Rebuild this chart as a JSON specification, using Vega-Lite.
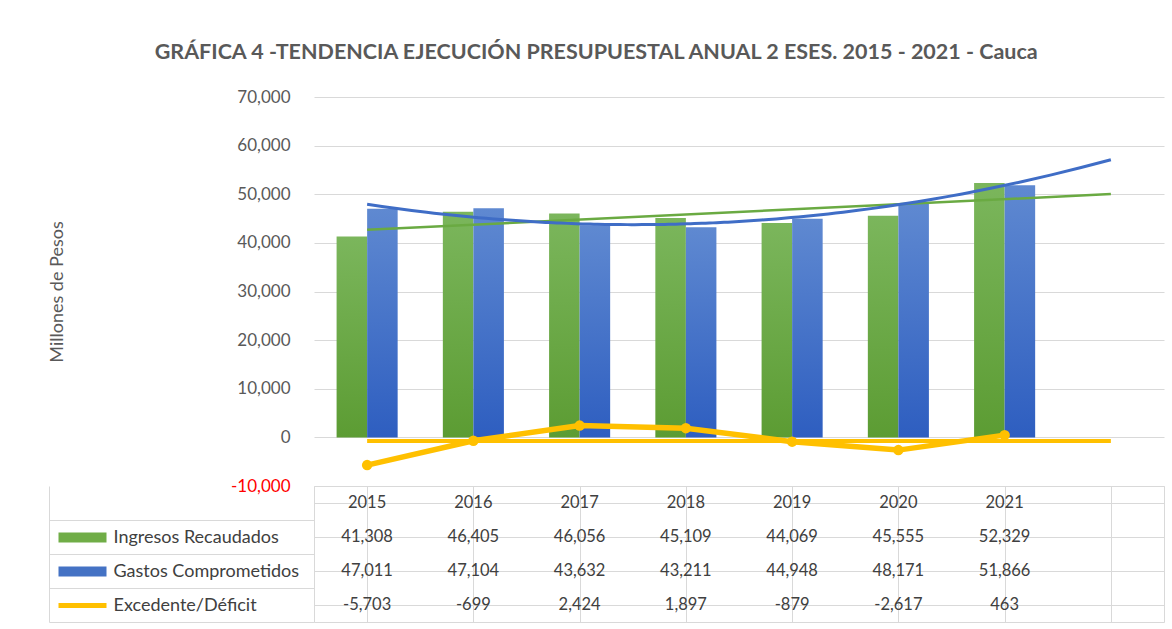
{
  "$schema": "https://vega.github.io/schema/vega-lite/v6.json",
  "background": "white",
  "padding": {"left": 48, "top": 41, "right": 4, "bottom": 4},
  "autosize": {"type": "pad"},
  "config": {
    "font": "Lato",
    "locale": {"number": {"decimal": ".", "thousands": ",", "grouping": [3], "currency": ["$", ""], "minus": "-"}}
  },
  "title": {
    "text": "GRÁFICA 4  -TENDENCIA EJECUCIÓN PRESUPUESTAL ANUAL 2 ESES. 2015 - 2021 - Cauca",
    "fontSize": 21.5,
    "fontWeight": "bold",
    "color": "#595959",
    "anchor": "middle",
    "offset": 25,
    "dx": -10
  },
  "datasets": {
    "d": [
      {"year": 2015, "series": "Ingresos Recaudados", "value": 41308},
      {"year": 2016, "series": "Ingresos Recaudados", "value": 46405},
      {"year": 2017, "series": "Ingresos Recaudados", "value": 46056},
      {"year": 2018, "series": "Ingresos Recaudados", "value": 45109},
      {"year": 2019, "series": "Ingresos Recaudados", "value": 44069},
      {"year": 2020, "series": "Ingresos Recaudados", "value": 45555},
      {"year": 2021, "series": "Ingresos Recaudados", "value": 52329},
      {"year": 2015, "series": "Gastos Comprometidos", "value": 47011},
      {"year": 2016, "series": "Gastos Comprometidos", "value": 47104},
      {"year": 2017, "series": "Gastos Comprometidos", "value": 43632},
      {"year": 2018, "series": "Gastos Comprometidos", "value": 43211},
      {"year": 2019, "series": "Gastos Comprometidos", "value": 44948},
      {"year": 2020, "series": "Gastos Comprometidos", "value": 48171},
      {"year": 2021, "series": "Gastos Comprometidos", "value": 51866},
      {"year": 2015, "series": "Excedente/Déficit", "value": -5703},
      {"year": 2016, "series": "Excedente/Déficit", "value": -699},
      {"year": 2017, "series": "Excedente/Déficit", "value": 2424},
      {"year": 2018, "series": "Excedente/Déficit", "value": 1897},
      {"year": 2019, "series": "Excedente/Déficit", "value": -879},
      {"year": 2020, "series": "Excedente/Déficit", "value": -2617},
      {"year": 2021, "series": "Excedente/Déficit", "value": 463}
    ]
  },
  "bounds": "flush",
  "spacing": 0,
  "resolve": {"scale": {"x": "independent", "y": "independent"}},
  "vconcat": [
    {
      "width": 850,
      "height": 389,
      "view": {"stroke": null},
      "data": {"name": "d"},
      "encoding": {
        "y": {
          "field": "value", "type": "quantitative",
          "scale": {"domain": [-10000, 70000], "nice": false, "zero": false},
          "axis": {
            "values": [-10000, 0, 10000, 20000, 30000, 40000, 50000, 60000, 70000],
            "format": ",.0f",
            "labelColor": {"condition": {"test": "datum.value < 0", "value": "#FF0000"}, "value": "#595959"},
            "labelFontSize": 17,
            "labelPadding": 24,
            "ticks": false,
            "domain": false,
            "grid": true,
            "gridColor": "#D9D9D9",
            "title": "Millones de Pesos",
            "titleFontSize": 18,
            "titleFontWeight": "normal",
            "titleColor": "#595959",
            "titlePadding": 164
          }
        }
      },
      "resolve": {"scale": {"x": "independent"}},
      "layer": [
        {
          "layer": [
            {
              "transform": [{"filter": "datum.series === 'Ingresos Recaudados'"}],
              "mark": {"type": "bar", "color": {"gradient": "linear", "x1": 0, "y1": 0, "x2": 0, "y2": 1, "stops": [{"offset": 0, "color": "#7BB65C"}, {"offset": 1, "color": "#5C9C33"}]}},
              "encoding": {
                "x": {"field": "year", "type": "ordinal", "scale": {"domain": [2015, 2016, 2017, 2018, 2019, 2020, 2021, 2022], "paddingInner": 0, "paddingOuter": 0}, "axis": null},
                "xOffset": {"field": "series", "type": "nominal", "scale": {"domain": ["Ingresos Recaudados", "Gastos Comprometidos"], "paddingInner": 0, "paddingOuter": 0.74}}
              }
            },
            {
              "transform": [{"filter": "datum.series === 'Gastos Comprometidos'"}],
              "mark": {"type": "bar", "color": {"gradient": "linear", "x1": 0, "y1": 0, "x2": 0, "y2": 1, "stops": [{"offset": 0, "color": "#5F89D1"}, {"offset": 1, "color": "#2E5EC0"}]}},
              "encoding": {
                "x": {"field": "year", "type": "ordinal", "scale": {"domain": [2015, 2016, 2017, 2018, 2019, 2020, 2021, 2022], "paddingInner": 0, "paddingOuter": 0}, "axis": null},
                "xOffset": {"field": "series", "type": "nominal", "scale": {"domain": ["Ingresos Recaudados", "Gastos Comprometidos"], "paddingInner": 0, "paddingOuter": 0.74}}
              }
            }
          ]
        },
        {
          "layer": [
            {
              "transform": [
                {"filter": "datum.series === 'Ingresos Recaudados'"},
                {"regression": "value", "on": "year", "method": "linear", "extent": [2015, 2022]}
              ],
              "mark": {"type": "line", "color": "#6AAA42", "strokeWidth": 2.5},
              "encoding": {
                "x": {"field": "year", "type": "quantitative", "scale": {"domain": [2014.5, 2022.5], "nice": false, "zero": false}, "axis": null}
              }
            },
            {
              "transform": [
                {"filter": "datum.series === 'Gastos Comprometidos'"},
                {"regression": "value", "on": "year", "method": "poly", "order": 2, "extent": [2015, 2022]}
              ],
              "mark": {"type": "line", "color": "#3F6DC6", "strokeWidth": 3},
              "encoding": {
                "x": {"field": "year", "type": "quantitative", "scale": {"domain": [2014.5, 2022.5], "nice": false, "zero": false}, "axis": null}
              }
            },
            {
              "transform": [
                {"filter": "datum.series === 'Excedente/Déficit'"},
                {"aggregate": [{"op": "mean", "field": "value", "as": "value"}]}
              ],
              "mark": {"type": "rule", "color": "#FFC000", "strokeWidth": 4},
              "encoding": {
                "x": {"datum": 2015, "type": "quantitative", "scale": {"domain": [2014.5, 2022.5], "nice": false, "zero": false}, "axis": null},
                "x2": {"datum": 2022}
              }
            }
          ]
        },
        {
          "layer": [
            {
              "transform": [{"filter": "datum.series === 'Excedente/Déficit'"}],
              "mark": {"type": "line", "color": "#FFC000", "strokeWidth": 5.5, "point": {"filled": true, "size": 110, "color": "#FFC000"}},
              "encoding": {
                "x": {"field": "year", "type": "ordinal", "scale": {"domain": [2015, 2016, 2017, 2018, 2019, 2020, 2021, 2022], "paddingInner": 0, "paddingOuter": 0}, "axis": null}
              }
            }
          ]
        }
      ]
    },
    {
      "width": 850,
      "height": 136,
      "view": {"stroke": "#D9D9D9"},
      "data": {"name": "d"},
      "encoding": {
        "x": {
          "field": "year", "type": "ordinal",
          "scale": {"domain": [2015, 2016, 2017, 2018, 2019, 2020, 2021, 2022], "paddingInner": 0, "paddingOuter": 0},
          "axis": {"orient": "bottom", "bandPosition": 0, "tickExtra": false, "grid": true, "gridColor": "#D9D9D9", "labels": false, "ticks": false, "domain": false, "title": null}
        }
      },
      "resolve": {"axis": {"y": "independent"}},
      "layer": [
        {
          "mark": {"type": "text", "opacity": 0},
          "encoding": {
            "y": {
              "field": "series", "type": "nominal",
              "scale": {"domain": ["hdr", "Ingresos Recaudados", "Gastos Comprometidos", "Excedente/Déficit"], "paddingInner": 0, "paddingOuter": 0},
              "axis": {
                "orient": "left",
                "offset": 0,
                "title": null,
                "labels": false,
                "domain": false,
                "grid": false,
                "ticks": true,
                "tickOffset": 17,
                "tickExtra": false,
                "tickSize": 265,
                "tickColor": "#D9D9D9",
                "tickWidth": 1
              }
            },
            "text": {"field": "value", "type": "quantitative"}
          }
        },
        {
          "transform": [{"filter": "datum.series === 'Ingresos Recaudados'"}],
          "mark": {"type": "text", "fontSize": 16.5, "color": "#404040"},
          "encoding": {
            "y": {
              "datum": "hdr", "type": "nominal",
              "scale": {"domain": ["hdr", "Ingresos Recaudados", "Gastos Comprometidos", "Excedente/Déficit"], "paddingInner": 0, "paddingOuter": 0},
              "axis": {
                "orient": "left",
                "offset": 0,
                "title": null,
                "bandPosition": 1,
                "tickExtra": false,
                "labels": false,
                "domain": false,
                "ticks": false,
                "grid": true,
                "gridColor": "#D9D9D9"
              }
            },
            "text": {"field": "year", "type": "nominal"}
          }
        },
        {
          "mark": {"type": "text", "opacity": 0},
          "encoding": {
            "y": {
              "field": "series", "type": "nominal",
              "scale": {"domain": ["hdr", "Ingresos Recaudados", "Gastos Comprometidos", "Excedente/Déficit"], "paddingInner": 0, "paddingOuter": 0},
              "axis": {
                "orient": "left",
                "offset": 265,
                "title": null,
                "labels": false,
                "ticks": false,
                "grid": false,
                "domain": true,
                "domainColor": "#D9D9D9"
              }
            },
            "text": {"field": "value", "type": "quantitative"}
          }
        },
        {
          "mark": {"type": "text", "fontSize": 16.5, "color": "#404040"},
          "encoding": {
            "y": {
              "field": "series", "type": "nominal",
              "scale": {"domain": ["hdr", "Ingresos Recaudados", "Gastos Comprometidos", "Excedente/Déficit"], "paddingInner": 0, "paddingOuter": 0},
              "axis": {
                "orient": "left",
                "offset": 208,
                "title": null,
                "domain": false,
                "grid": false,
                "ticks": true,
                "bandPosition": 0.5,
                "tickExtra": false,
                "tickSize": 48,
                "tickWidth": {"condition": {"test": "datum.value === 'Excedente/Déficit'", "value": 5}, "value": 10},
                "tickColor": {"condition": [
                  {"test": "datum.value === 'Ingresos Recaudados'", "value": "#70AD47"},
                  {"test": "datum.value === 'Gastos Comprometidos'", "value": "#4472C4"},
                  {"test": "datum.value === 'Excedente/Déficit'", "value": "#FFC000"}
                ], "value": "transparent"},
                "labelAlign": "left",
                "labelBaseline": "middle",
                "labelPadding": -55,
                "labelExpr": "datum.value === 'hdr' ? '' : datum.label",
                "labelFontSize": 18,
                "labelColor": "#404040",
                "labelLimit": 260
              }
            },
            "text": {"field": "value", "type": "quantitative", "format": ","}
          }
        }
      ]
    }
  ]
}
